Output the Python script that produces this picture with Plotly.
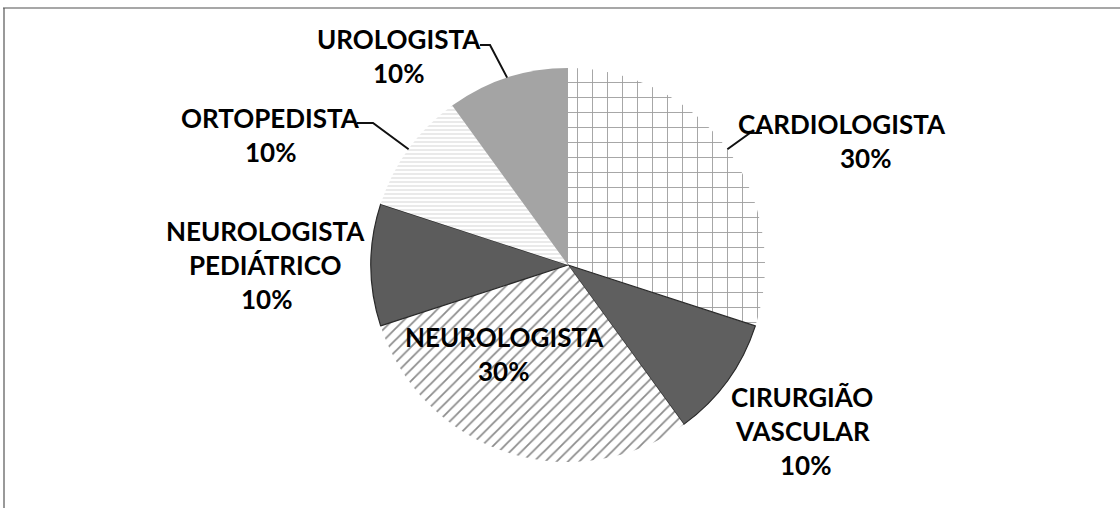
import math
import plotly.graph_objects as go

# Distribution of specialist referrals
especialidades = ["CARDIOLOGISTA", "CIRURGIÃO VASCULAR", "NEUROLOGISTA",
                  "NEUROLOGISTA PEDIÁTRICO", "ORTOPEDISTA", "UROLOGISTA"]
percentuais = [30, 10, 30, 10, 10, 10]
rotulos = [["CARDIOLOGISTA"], ["CIRURGIÃO", "VASCULAR"], ["NEUROLOGISTA"],
           ["NEUROLOGISTA", "PEDIÁTRICO"], ["ORTOPEDISTA"], ["UROLOGISTA"]]

W, H = 1120, 508
CX, CY, R = 568, 265, 197          # pie centre and radius in pixels
FONT = "Lato"
FSIZE = 26
LINE = 34


def paper(x, y):
    return x / W, 1 - y / H


fills = ["white", "#5f5f5f", "white", "#5c5c5c", "white", "#a4a4a4"]
shapes_ = ["+", "", "/", "", "-", ""]
fg = ["#a0a0a0", "#5f5f5f", "#8c8c8c", "#5c5c5c", "#d6d6d6", "#a4a4a4"]
sizes = [15, 8, 8, 8, 4, 8]
solid = [0.12, 0.3, 0.22, 0.3, 0.25, 0.3]
edge_w = [0, 1.2, 0, 1.2, 0, 0]

fig = go.Figure(go.Pie(
    labels=especialidades,
    values=percentuais,
    sort=False,
    direction="clockwise",
    rotation=0,
    textinfo="none",
    hoverinfo="label+percent",
    showlegend=False,
    marker=dict(
        colors=fills,
        line=dict(color="#2a2a2a", width=edge_w),
        pattern=dict(shape=shapes_, fgcolor=fg, bgcolor=fills,
                     size=sizes, solidity=solid, fillmode="replace"),
    ),
    domain=dict(x=[(CX - R) / W, (CX + R) / W],
                y=[1 - (CY + R) / H, 1 - (CY - R) / H]),
))

# label block positions (pixels): name centre x, first line centre y, percent centre x
label_pos = {
    "CARDIOLOGISTA": (842, 124, 865),
    "CIRURGIÃO VASCULAR": (802, 397, 805),
    "NEUROLOGISTA": (504, 337, 503),
    "NEUROLOGISTA PEDIÁTRICO": (265, 231, 266),
    "ORTOPEDISTA": (270, 118, 270),
    "UROLOGISTA": (399, 39, 398),
}

total = sum(percentuais)
annotations = []
for nome, linhas, v in zip(especialidades, rotulos, percentuais):
    x0, y0, xp = label_pos[nome]
    for i, t in enumerate(linhas):
        px, py = paper(x0, y0 + i * LINE)
        annotations.append(dict(x=px, y=py, xref="paper", yref="paper",
                                text=f"<b>{t}</b>", showarrow=False,
                                xanchor="center", yanchor="middle",
                                font=dict(family=FONT, size=FSIZE, color="#000")))
    px, py = paper(xp, y0 + len(linhas) * LINE)
    annotations.append(dict(x=px, y=py, xref="paper", yref="paper",
                            text=f"<b>{round(100 * v / total)}%</b>", showarrow=False,
                            xanchor="center", yanchor="middle",
                            font=dict(family=FONT, size=FSIZE, color="#000")))

# leader lines: from the slice's outer edge at mid-angle to an elbow near the label
elbows = {
    "CARDIOLOGISTA": [(750, 133), (762, 133)],
    "ORTOPEDISTA": [(373, 123), (357, 123)],
    "UROLOGISTA": [(490, 45), (480, 45)],
}
shapes = []
acc = 0
for nome, v in zip(especialidades, percentuais):
    mid = (acc + v / 2) / total * 2 * math.pi
    acc += v
    if nome not in elbows:
        continue
    ex = CX + R * math.sin(mid)
    ey = CY - R * math.cos(mid)
    pts = [(ex, ey)] + elbows[nome]
    path = "M " + " L ".join("{:.5f},{:.5f}".format(*paper(x, y)) for x, y in pts)
    shapes.append(dict(type="path", path=path, xref="paper", yref="paper",
                       line=dict(color="#111", width=2)))

# chart frame (top and left edges)
shapes.append(dict(type="line", xref="paper", yref="paper",
                   x0=paper(3, 8)[0], y0=paper(3, 8)[1], x1=1, y1=paper(3, 8)[1],
                   line=dict(color="#8a8a8a", width=1.5)))
shapes.append(dict(type="line", xref="paper", yref="paper",
                   x0=paper(4, 8)[0], y0=paper(4, 8)[1], x1=paper(4, 8)[0], y1=0,
                   line=dict(color="#555", width=1.2)))

fig.update_layout(
    width=W, height=H,
    margin=dict(l=0, r=0, t=0, b=0),
    paper_bgcolor="white",
    plot_bgcolor="white",
    annotations=annotations,
    shapes=shapes,
)

fig.write_html("out.html")
